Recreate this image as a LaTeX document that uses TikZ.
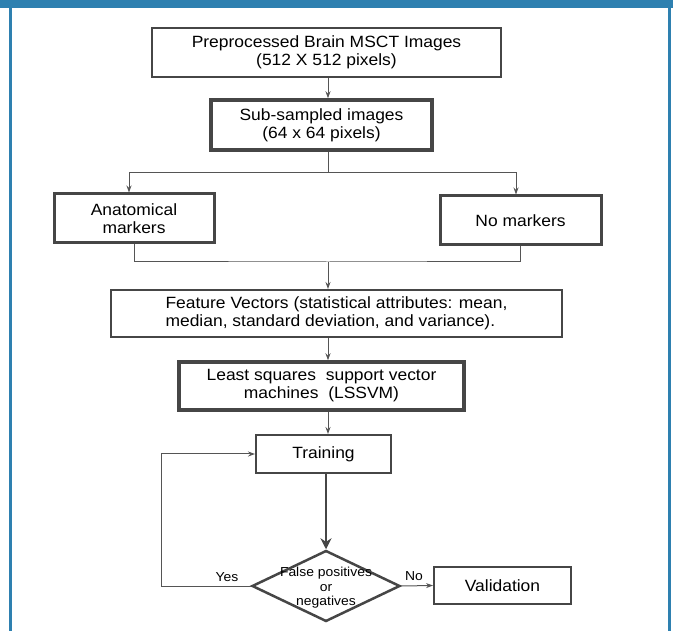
\documentclass[tikz,border=0pt]{standalone}
\usepackage{fontspec}
\setmainfont[FakeStretch=1.07]{Liberation Sans}
\usepackage{xcolor}
\usepackage{tikz}
\usetikzlibrary{calc,arrows.meta,shapes.geometric}
\definecolor{framebl}{RGB}{46,128,176}
\definecolor{boxgray}{RGB}{70,70,70}
\definecolor{linegray}{RGB}{85,85,85}
\tikzset{>={Stealth[length=7pt,width=5pt]}}

\begin{document}
\begin{tikzpicture}[x=1pt,y=-1pt,
    box/.style={draw=boxgray,line width=2pt,inner sep=0pt,align=center,
      font=\fontsize{16.3}{18}\selectfont},
    boldbox/.style={box,line width=3.5pt},
    conn/.style={draw=linegray,line width=1pt}]
      \useasboundingbox (0,0) rectangle (673,631);
      % frame
        \fill[framebl] (0,0) rectangle (673,8);
        \fill[framebl] (9,8) rectangle (12,631);
        \fill[framebl] (668,8) rectangle (671,631);
      % boxes
      \node[box,minimum width=349,minimum height=49] at (326.5,52.5) (pre)
        {Preprocessed Brain MSCT Images\\(512 X 512 pixels)};
      \node[boldbox,minimum width=221,minimum height=50] at (321.5,125) (sub)
        {Sub-sampled images\\(64 x 64 pixels)};
      \node[boldbox,line width=3pt,minimum width=160,minimum height=49] at (134,218.5) (anat)
        {Anatomical\\markers};
      \node[boldbox,line width=3pt,minimum width=161,minimum height=49] at (520.5,220.5) (nomark)
        {No markers};
      \node[box,align=left,minimum width=451,minimum height=47] at (336.5,313.5) (feat)
        {Feature Vectors (statistical attributes: mean,\\median, standard deviation, and variance).};
      \node[boldbox,minimum width=285,minimum height=48] at (321.5,386) (lssvm)
        {Least squares~ support vector\\machines~ (LSSVM)};
      \node[box,minimum width=135,minimum height=38] at (323.5,454) (train) {Training};
      \node[diamond,draw=boxgray,line width=2.5pt,inner sep=0pt,
        minimum width=148,minimum height=71] at (326,586) (dec) {};
      \node[align=center,font=\fontsize{13}{14.5}\selectfont] at (326,588) (dectext)
        {False positives\\or\\negatives};
      \node[box,minimum width=137,minimum height=37] at (502.5,585.5) (valid) {Validation};
      \node[font=\fontsize{13}{14}\selectfont] at (227,577) (yes) {Yes};
      \node[font=\fontsize{13}{14}\selectfont] at (414,576) (no) {No};
      % connectors
      \coordinate (split) at (328,173);
      \coordinate (join) at (328,262);
        \draw[conn,->] (pre.south -| split) -- (sub.north -| split);
        \draw[conn] (sub.south -| split) -- (split);
        \draw[conn,->] (split) -| (anat.north -| 129,0);
        \draw[conn,->] (split) -| (nomark.north -| 516,0);
        \draw[conn] (anat.south) |- (join) -| (nomark.south);
        \draw[conn,->] (join) -- (join |- feat.north);
        \draw[conn,->] (feat.south -| split) -- (lssvm.north -| split);
        \draw[conn,->] (lssvm.south -| split) -- (train.north -| split);
        \draw[draw=boxgray,line width=1.3pt,-{Stealth[length=11pt,width=11pt]}]
          (train.south -| dec) -- (dec.north);
        \draw[conn,->] (dec.east) -- (valid.west);
        \draw[conn,->] (dec.west) -- ++(-89,0) |- (train.west);
\end{tikzpicture}
\end{document}
